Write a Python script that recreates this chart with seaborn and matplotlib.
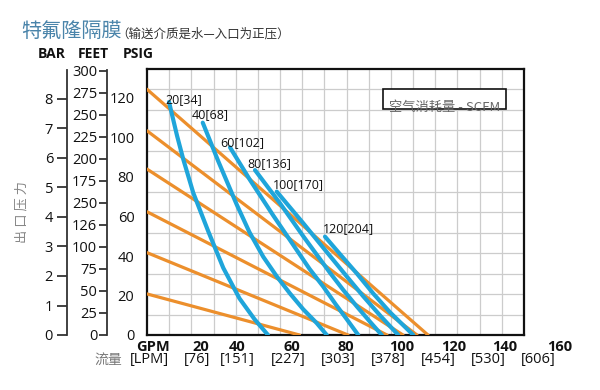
import numpy as np
import pandas as pd
import matplotlib
matplotlib.use('Agg')
import matplotlib.pyplot as plt
import matplotlib.transforms as mtransforms
from matplotlib.patches import Rectangle
import seaborn as sns

# ---------------- data (GPM, PSIG) ----------------
# inlet-pressure performance lines (orange)
orange_names = ['120 psi', '100 psi', '80 psi', '60 psi', '40 psi', '20 psi']
orange_gpm = [[0, 112.4], [0, 108.0], [0, 102.4], [0, 96.0], [0, 80.4], [0, 61.0]]
orange_psig = [[124.4, 0], [103.4, 0], [84.0, 0], [62.4, 0], [41.7, 0], [20.8, 0]]

# air consumption curves (blue), SCFM [Nm3/h]
blue_names = ['20[34]', '40[68]', '60[102]', '80[136]', '100[170]', '120[204]']
blue_gpm = [
    [8.8, 12.0, 14.5, 18.5, 24.5, 30.5, 37.0, 43.0, 48.4],
    [22.3, 28.5, 35.9, 41.0, 46.5, 52.0, 57.2, 62.5, 67.9, 71.9],
    [33.2, 41.2, 50.5, 59.9, 65.0, 70.5, 75.5, 79.9, 84.5],
    [43.2, 53.2, 62.5, 73.2, 78.5, 83.9, 89.0, 93.9],
    [51.9, 62.5, 73.2, 80.0, 86.5, 93.5, 100.5],
    [71.2, 77.5, 83.9, 90.5, 97.2, 106.5],
]
blue_psig = [
    [118.0, 101.0, 89.0, 72.0, 52.5, 34.0, 18.5, 8.0, 0.0],
    [107.5, 88.0, 66.0, 52.0, 39.6, 29.5, 21.0, 13.0, 6.0, 0.0],
    [95.0, 78.5, 60.5, 43.0, 33.5, 24.5, 15.5, 8.0, 0.0],
    [83.5, 66.7, 50.0, 31.5, 22.8, 14.5, 7.0, 0.0],
    [72.6, 56.6, 40.0, 29.5, 19.6, 9.5, 0.0],
    [49.8, 40.5, 31.2, 21.0, 11.5, 0.0],
]
blue_label_gpm = [7.2, 17.9, 29.2, 40.1, 50.3, 70.3]
blue_label_psig = [119.0, 111.6, 97.2, 86.6, 76.2, 53.7]

# axis tick labels
psig_ticks = [0, 20, 40, 60, 80, 100, 120]
bar_ticks = [0, 1, 2, 3, 4, 5, 6, 7, 8]
feet_ticks = [0, 25, 50, 75, 100, 125, 150, 175, 200, 225, 250, 275, 300]
feet_labels = ['0', '25', '50', '75', '100', '126', '250', '175', '200', '225', '250', '275', '300']
gpm_labels = ['GPM', '20', '40', '60', '80', '100', '120', '140', '160']
lpm_labels = ['[LPM]', '[76]', '[151]', '[227]', '[303]', '[378]', '[454]', '[530]', '[606]']

# ---------------- layout (label positions in GPM units) ----------------
gpm_label_pos = [2.4, 21.6, 36.2, 58.0, 79.6, 101.9, 122.5, 143.2, 165.0]
lpm_label_pos = [0.8, 20.0, 36.3, 56.3, 76.5, 96.5, 116.5, 136.5, 156.5]

ORANGE = '#EC8F2C'
BLUE = '#1FA5DA'

sns.set_theme(style='white')
plt.rcParams['font.family'] = ['Open Sans', 'Noto Sans CJK SC', 'DejaVu Sans']
plt.rcParams['axes.unicode_minus'] = False
CJK = ['Noto Sans CJK SC', 'DejaVu Sans']

W, H = 600, 390
fig = plt.figure(figsize=(6, 3.9), dpi=100)
fig.patch.set_facecolor('white')


def fx(px):
    return px / W


def fy(py):
    return 1 - py / H


X0, X1, Y0, Y1 = 147, 524, 69, 335
ax = fig.add_axes([fx(X0), fy(Y1), (X1 - X0) / W, (Y1 - Y0) / H])
xmax = (X1 - X0) / 2.5
ymax = (Y1 - Y0) / 1.975

rows = []
for n, xs, ys in zip(orange_names, orange_gpm, orange_psig):
    for x, y in zip(xs, ys):
        rows.append({'curve': n, 'gpm': x, 'psig': y})
df_o = pd.DataFrame(rows)
rows = []
for n, xs, ys in zip(blue_names, blue_gpm, blue_psig):
    for x, y in zip(xs, ys):
        rows.append({'curve': n, 'gpm': x, 'psig': y})
df_b = pd.DataFrame(rows)

sns.lineplot(data=df_o, x='gpm', y='psig', hue='curve',
             palette={n: ORANGE for n in orange_names}, sort=False,
             estimator=None, legend=False, linewidth=2.3, ax=ax, zorder=3)
sns.lineplot(data=df_b, x='gpm', y='psig', hue='curve',
             palette={n: BLUE for n in blue_names}, sort=False,
             estimator=None, legend=False, linewidth=3.0, ax=ax, zorder=4)
for ln in ax.get_lines():
    ln.set_solid_joinstyle('round')

for t, x, y in zip(blue_names, blue_label_gpm, blue_label_psig):
    ax.text(x, y, t, ha='left', va='center', fontsize=9, color='#111', zorder=6)

ax.set_xlim(0, xmax)
ax.set_ylim(0, ymax)
ax.set_xticks([])
ax.set_xticks(np.arange(1, 17) * xmax / 17, minor=True)
ax.set_yticks(psig_ticks)
ax.set_yticklabels([str(v) for v in psig_ticks])
ax.set_yticks(np.arange(1, 13) * ymax / 13, minor=True)
ax.grid(which='major', visible=False)
ax.grid(which='minor', color='#cccccc', linewidth=0.9)
ax.set_axisbelow(True)
ax.tick_params(axis='y', which='major', length=0, pad=9, labelsize=10.5, colors='#111')
ax.tick_params(which='minor', length=0)
ax.set_xlabel('')
ax.set_ylabel('')
for s in ax.spines.values():
    s.set_color('#111')
    s.set_linewidth(1.6)
    s.set_visible(True)

# legend-like box
rect = Rectangle((94.4, 114.4), 49.2, 10.2, facecolor='white', edgecolor='#111',
                 linewidth=1.2, zorder=5)
ax.add_patch(rect)
tt = ax.text(119.0, 115.4, '空气消耗量 - SCFM', ha='center', va='center', fontsize=9.5,
             color='#666', family=CJK, zorder=6)
tt.set_clip_path(rect)

# x tick label rows
trans = mtransforms.blended_transform_factory(ax.transData, fig.transFigure)
for t, x in zip(gpm_labels, gpm_label_pos):
    ax.text(x, fy(347), t, transform=trans, ha='center', va='center', fontsize=10.5,
            fontweight='bold', color='#111', clip_on=False)
for t, x in zip(lpm_labels, lpm_label_pos):
    ax.text(x, fy(360), t, transform=trans, ha='center', va='center', fontsize=10.5,
            color='#111', clip_on=False)
fig.text(fx(108), fy(360), '流量', ha='center', va='center', fontsize=10, color='#777', family=CJK)

# BAR axis
axb = fig.add_axes([fx(67), fy(Y1), 0.0001, (Y1 - 70) / H])
axb.patch.set_visible(False)
axb.set_ylim(0, (Y1 - 70) / 29.5)
axb.set_xticks([])
axb.set_yticks(bar_ticks)
axb.set_yticklabels([str(v) for v in bar_ticks])
for s in ['top', 'right', 'bottom']:
    axb.spines[s].set_visible(False)
axb.spines['left'].set_visible(True)
axb.spines['left'].set_color('#333')
axb.spines['left'].set_linewidth(1.3)
axb.tick_params(axis='y', left=True, direction='out', length=7, width=1.3, pad=3,
                color='#333', labelsize=10.5, labelcolor='#111')
axb.grid(False)

# FEET axis
axf = fig.add_axes([fx(107), fy(Y1), 0.0001, (Y1 - 70) / H])
axf.patch.set_visible(False)
axf.set_ylim(0, 300 * (Y1 - 70) / (Y1 - 70.7))
axf.set_xticks([])
axf.set_yticks(feet_ticks)
axf.set_yticklabels(feet_labels)
for s in ['top', 'right', 'bottom']:
    axf.spines[s].set_visible(False)
axf.spines['left'].set_visible(True)
axf.spines['left'].set_color('#333')
axf.spines['left'].set_linewidth(1.3)
axf.tick_params(axis='y', left=True, direction='out', length=6, width=1.3, pad=1,
                color='#333', labelsize=10.5, labelcolor='#111')
axf.grid(False)

# headers
for t, x in zip(['BAR', 'FEET', 'PSIG'], [52, 93.5, 138.5]):
    fig.text(fx(x), fy(54), t, ha='center', va='center', fontsize=10,
             fontweight='bold', color='#111')

fig.text(fx(22), fy(212), '出 口 压 力', rotation=90, ha='center', va='center',
         fontsize=9.5, color='#888', family=CJK)

fig.text(fx(21), fy(32), '特氟隆隔膜', ha='left', va='center', fontsize=14.5,
         color='#4A84AA', family=CJK)
fig.text(fx(116), fy(34), '（输送介质是水—入口为正压）', ha='left', va='center',
         fontsize=9, color='#333', family=CJK)

fig.savefig('out.png', dpi=100)
